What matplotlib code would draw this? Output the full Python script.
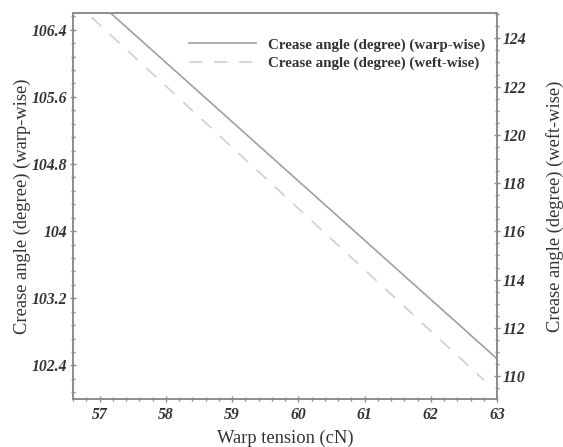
import matplotlib.pyplot as plt
from matplotlib.ticker import MultipleLocator

# valores
tensao_warp = [56.6, 63.0]
angulo_warp = [107.0, 102.48]
tensao_weft = [56.6, 62.8]
angulo_weft = [125.58, 109.84]

xticks = [57, 58, 59, 60, 61, 62, 63]
yticks_esq = [102.4, 103.2, 104, 104.8, 105.6, 106.4]
yticks_dir = [110, 112, 114, 116, 118, 120, 122, 124]

plt.rcParams['font.family'] = 'Liberation Serif'
cinza = '#8c8c8c'

fig = plt.figure(figsize=(5.63, 4.47), dpi=100)
ax = fig.add_axes([0.1297, 0.1074, 0.7531, 0.8635])
ax2 = ax.twinx()

l1, = ax.plot(tensao_warp, angulo_warp, color='#a0a0a0', lw=1.2,
              label='Crease angle (degree) (warp-wise)')
l2, = ax2.plot(tensao_weft, angulo_weft, color='#cfcfcf', lw=1.2,
               linestyle=(0, (8, 7)), label='Crease angle (degree) (weft-wise)')

ax.set_xlim(56.6, 63)
ax.set_ylim(102.0, 106.6)
ax2.set_ylim(109.05, 125.05)

ax.set_xticks(xticks)
ax.set_xticklabels([str(t) for t in xticks])
ax.set_yticks(yticks_esq)
ax.set_yticklabels(['102.4', '103.2', '104', '104.8', '105.6', '106.4'])
ax2.set_yticks(yticks_dir)
ax2.set_yticklabels([str(t) for t in yticks_dir])
ax.xaxis.set_minor_locator(MultipleLocator(0.2))
ax.yaxis.set_minor_locator(MultipleLocator(0.16))
ax2.yaxis.set_minor_locator(MultipleLocator(0.5))

for a in (ax, ax2):
    for s in a.spines.values():
        s.set_color(cinza)
        s.set_linewidth(1.2)
    a.tick_params(which='both', direction='inout', color=cinza, width=1)
    a.tick_params(which='major', length=5, pad=1.5)
    a.tick_params(which='minor', length=3)
    for lbl in a.get_xticklabels() + a.get_yticklabels():
        lbl.set_fontsize(11.3)
        lbl.set_fontweight('bold')
        lbl.set_fontstyle('italic')
        lbl.set_color('#333333')
ax.tick_params(axis='x', pad=3)

ax.set_xlabel('Warp tension (cN)', fontsize=13.3, color='#333333', labelpad=5)
ax.set_ylabel('Crease angle (degree) (warp-wise)', fontsize=13.3, color='#333333', labelpad=1)
ax2.set_ylabel('Crease angle (degree) (weft-wise)', fontsize=13.3, color='#333333', labelpad=14)

leg = ax.legend(handles=[l1, l2], loc='upper right', frameon=False,
                bbox_to_anchor=(0.972, 0.935), borderaxespad=0, borderpad=0,
                handlelength=4.5, handletextpad=0.8, labelspacing=0.3,
                prop={'family': 'Liberation Serif', 'size': 10.8, 'weight': 'bold'})
for t in leg.get_texts():
    t.set_color('#333333')

fig.savefig('out.png', dpi=100)
